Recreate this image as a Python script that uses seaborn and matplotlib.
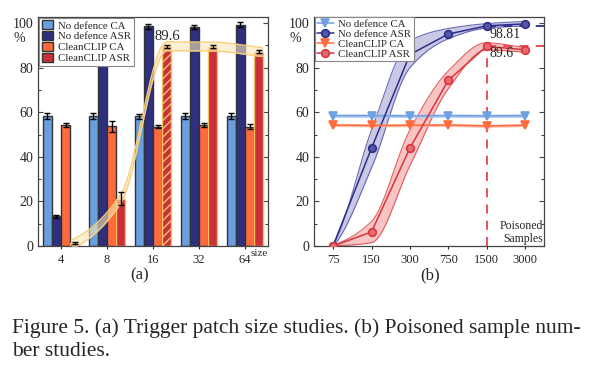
import numpy as np
import pandas as pd
import matplotlib
matplotlib.use("Agg")
import matplotlib.pyplot as plt
from matplotlib.ticker import MultipleLocator
import seaborn as sns

# (a) trigger patch size study
sizes = ["4", "8", "16", "32", "64"]
series = ["No defence CA", "No defence ASR", "CleanCLIP CA", "CleanCLIP ASR"]
nodef_ca = [58.3, 58.4, 58.2, 58.4, 58.2]
nodef_asr = [13.3, 85.0, 98.6, 98.3, 99.4]
clean_ca = [54.4, 53.8, 53.6, 54.3, 53.6]
clean_asr = [1.4, 21.2, 89.6, 89.5, 87.2]
nodef_ca_err = [1.2, 1.2, 1.0, 1.2, 1.3]
nodef_asr_err = [0.8, 0.0, 1.0, 1.0, 1.3]
clean_ca_err = [0.8, 2.5, 0.8, 0.8, 1.0]
clean_asr_err = [0.3, 3.0, 0.8, 0.8, 0.7]

# (b) poisoned sample number study
samples = ["75", "150", "300", "750", "1500", "3000"]
b_nodef_ca = [58.5, 58.5, 58.4, 58.5, 58.4, 58.5]
b_nodef_asr = [0.2, 43.9, 85.9, 95.1, 98.81, 99.7]
b_clean_ca = [54.3, 54.1, 54.2, 54.3, 53.9, 54.2]
b_clean_asr = [0.0, 6.3, 43.9, 74.3, 89.6, 88.1]
b_nodef_asr_hi = [0.5, 52.0, 92.0, 97.6, 99.8, 100.8]
b_nodef_asr_lo = [0.0, 35.0, 80.0, 93.0, 97.8, 98.8]
b_clean_asr_hi = [0.5, 11.0, 52.0, 78.5, 91.2, 89.0]
b_clean_asr_lo = [0.0, 1.5, 36.0, 70.5, 88.0, 87.0]

palette = ["#6a9fdf", "#2f2f7f", "#ff6a3d", "#c8303a"]
line_cols = ["#6fa0e2", "#2d2d88", "#ff6b3d", "#d8353d"]
face_cols = ["#6fa0e2", "#5656a8", "#ff6b3d", "#e86a6f"]


def pchip(x, y, xs):
    # monotone cubic curve through the points (used only for smooth drawing)
    x = np.asarray(x, float)
    y = np.asarray(y, float)
    h = np.diff(x)
    d = np.diff(y) / h
    n = len(x)
    m = np.zeros(n)
    for i in range(1, n - 1):
        if d[i - 1] * d[i] > 0:
            w1 = 2 * h[i] + h[i - 1]
            w2 = h[i] + 2 * h[i - 1]
            m[i] = (w1 + w2) / (w1 / d[i - 1] + w2 / d[i])
    m[0] = d[0] * 0.5
    m[-1] = d[-1]
    k = np.clip(np.searchsorted(x, xs) - 1, 0, n - 2)
    t = (xs - x[k]) / h[k]
    h00 = 2 * t**3 - 3 * t**2 + 1
    h10 = t**3 - 2 * t**2 + t
    h01 = -2 * t**3 + 3 * t**2
    h11 = t**3 - t**2
    return h00 * y[k] + h10 * h[k] * m[k] + h01 * y[k + 1] + h11 * h[k] * m[k + 1]


sns.set_style("ticks")
plt.rcParams["font.family"] = ["Liberation Serif", "DejaVu Serif"]
plt.rcParams["hatch.linewidth"] = 1.0

fig = plt.figure(figsize=(5.92, 3.75), dpi=100)
ax1 = fig.add_axes([38 / 592, 1 - 246 / 375, 230 / 592, 229.5 / 375])
ax2 = fig.add_axes([314 / 592, 1 - 246 / 375, 230 / 592, 229.5 / 375])

# ---- (a) bars
df = pd.DataFrame({
    "size": sizes * 4,
    "series": np.repeat(series, 5),
    "value": nodef_ca + nodef_asr + clean_ca + clean_asr,
})
sns.barplot(data=df, x="size", y="value", hue="series", order=sizes,
            hue_order=series, palette=palette, saturation=1, errorbar=None,
            width=0.8, edgecolor="#333333", linewidth=1, ax=ax1, legend=True,
            zorder=2)

errs = [nodef_ca_err, nodef_asr_err, clean_ca_err, clean_asr_err]
vals = [nodef_ca, nodef_asr, clean_ca, clean_asr]
for cont, err, v in zip(ax1.containers, errs, vals):
    xs = [p.get_x() + p.get_width() / 2 for p in cont]
    ax1.errorbar(xs, v, yerr=err, fmt="none", ecolor="black", elinewidth=1,
                 capsize=2.5, capthick=1, zorder=4)
for p in ax1.containers[3]:
    p.set_edgecolor("#f5c263")
ax1.containers[3][2].set_hatch("////")

# smooth band through CleanCLIP ASR tops
bx = np.arange(5) + 0.3
xs = np.linspace(bx[0] - 0.08, bx[-1] + 0.08, 300)
ys = pchip(bx, clean_asr, xs)
ax1.fill_between(xs, ys - 2.0, ys + 2.0, color="#fbe7b8", alpha=0.6, lw=0, zorder=3)
ax1.plot(xs, ys + 2.0, color="#f7cf7a", lw=1, zorder=3)
ax1.plot(xs, ys - 2.0, color="#f7cf7a", lw=1, zorder=3)
ax1.text(2.31, 91, "89.6", ha="center", va="bottom", fontsize=10.5, zorder=5)

ax1.set_xlim(-0.5, 4.5)
ax1.set_ylim(0, 103)
ax1.set_xlabel("")
ax1.set_ylabel("")
ax1.text(-0.08, 0.905, "%", transform=ax1.transAxes, ha="center", va="center", fontsize=10)
ax1.text(1.0, -0.012, "size", transform=ax1.transAxes, ha="right", va="top", fontsize=8)
leg = ax1.legend(loc="upper left", fontsize=7.8, frameon=True, fancybox=False,
                 framealpha=1, edgecolor="#888888", borderpad=0.25, labelspacing=0.05,
                 handlelength=1.0, handleheight=0.9, handletextpad=0.5,
                 borderaxespad=0.1)
leg.set_zorder(10)
leg.get_frame().set_linewidth(0.8)

# ---- (b) lines
pos = np.arange(6)
xs2 = np.linspace(0, 5, 400)
for hi, lo, c_fill, c_edge in [
        (b_nodef_asr_hi, b_nodef_asr_lo, "#b7b7de", "#6a6ab8"),
        (b_clean_asr_hi, b_clean_asr_lo, "#f6b0b0", "#e25c5c")]:
    up = pchip(pos, hi, xs2)
    dn = np.clip(pchip(pos, lo, xs2), 0, None)
    ax2.fill_between(xs2, dn, up, color=c_fill, alpha=0.75, lw=0, zorder=1)
    ax2.plot(xs2, up, color=c_edge, lw=0.8, zorder=1)
    ax2.plot(xs2, dn, color=c_edge, lw=0.8, zorder=1)
ax2.fill_between(pos, np.array(b_nodef_ca) - 0.8, np.array(b_nodef_ca) + 0.8,
                 color="#a9c6ef", alpha=0.8, lw=0, zorder=1)
ax2.fill_between(pos, np.array(b_clean_ca) - 0.7, np.array(b_clean_ca) + 0.7,
                 color="#ffb39a", alpha=0.8, lw=0, zorder=1)

line_data = [b_nodef_ca, b_nodef_asr, b_clean_ca, b_clean_asr]
markers = ["v", "o", "v", "o"]
for name, v, c, fc, mk in zip(series, line_data, line_cols, face_cols, markers):
    sns.lineplot(x=pos, y=v, ax=ax2, color=c, marker=mk, markersize=5.5,
                 markeredgecolor=c, markerfacecolor=fc, markeredgewidth=1.2,
                 linewidth=1.1, label=name, zorder=3)

ax2.plot([4, 4], [0, 89.6], ls=(0, (5, 4)), color="#e8434c", lw=1.3, zorder=2)
ax2.plot([4, 5.5], [89.6, 89.6], ls=(0, (5, 4)), color="#e8434c", lw=1.3, zorder=2)
ax2.plot([4, 5.5], [98.81, 98.81], ls=(0, (5, 4)), color="#2d2d88", lw=1.3, zorder=2)
ax2.text(4.08, 98, "98.81", ha="left", va="top", fontsize=10)
ax2.text(4.08, 89.6 - 0.5, "89.6", ha="left", va="top", fontsize=10)
ax2.text(0.995, 0.005, "Poisoned\nSamples", transform=ax2.transAxes, ha="right",
         va="bottom", fontsize=8.5, multialignment="right", linespacing=1.15)

ax2.set_xticks(pos)
ax2.set_xticklabels(samples)
ax2.set_xlim(-0.5, 5.5)
ax2.set_ylim(0, 103)
ax2.text(-0.08, 0.905, "%", transform=ax2.transAxes, ha="center", va="center", fontsize=10)
leg2 = ax2.legend(loc="upper left", fontsize=7.8, frameon=True, fancybox=False,
                  framealpha=1, edgecolor="#888888", borderpad=0.2, labelspacing=0.05,
                  handlelength=1.6, handletextpad=0.4, borderaxespad=0.05)
leg2.get_frame().set_linewidth(0.8)

for ax in (ax1, ax2):
    ax.yaxis.set_major_locator(MultipleLocator(20))
    ax.yaxis.set_minor_locator(MultipleLocator(10))
    ax.tick_params(axis="y", which="both", direction="in", left=True, right=True,
                   labelsize=10, width=0.8, color="#444444")
    ax.tick_params(axis="y", which="major", length=3.5)
    ax.tick_params(axis="y", which="minor", length=2)
    ax.tick_params(axis="x", direction="out", length=2.5, labelsize=9, width=0.8,
                   pad=3)
    for s in ax.spines.values():
        s.set_visible(True)
        s.set_color("#444444")
        s.set_linewidth(0.9)

fig.text(140 / 592, 1 - 275 / 375, "(a)", ha="center", va="center", fontsize=12)
fig.text(430 / 592, 1 - 275 / 375, "(b)", ha="center", va="center", fontsize=12)
fig.text(12 / 592, 1 - 328 / 375,
         "Figure 5. (a) Trigger patch size studies. (b) Poisoned sample num-",
         ha="left", va="center", fontsize=15.5)
fig.text(12 / 592, 1 - 351 / 375, "ber studies.", ha="left", va="center", fontsize=15.5)

fig.savefig("out.png", dpi=100)
